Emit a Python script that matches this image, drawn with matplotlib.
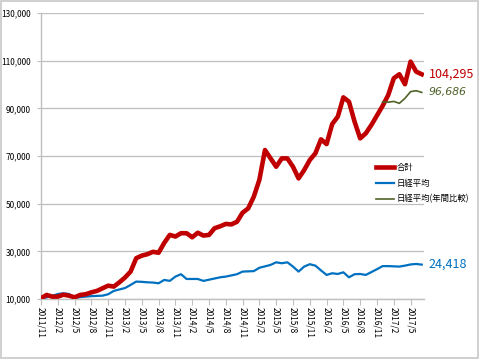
import matplotlib
matplotlib.use("Agg")
import matplotlib.pyplot as plt
from matplotlib.patches import Rectangle
from matplotlib.ticker import FuncFormatter, FixedLocator

plt.rcParams['font.family'] = ['Noto Sans CJK JP', 'DejaVu Sans']

# Monthly data, 2011/11 .. 2017/7
months = []
y, m = 2011, 11
for _ in range(69):
    months.append(f"{y}/{m}")
    m += 1
    if m > 12:
        m = 1
        y += 1

total = [10300, 11700, 11000, 11000, 11800, 11400, 10700, 11700, 12000, 12800,
         13400, 14500, 15600, 15200, 17000, 19000, 21500, 27100, 28200, 28800,
         29800, 29400, 33500, 36900, 36200, 37600, 37600, 35900, 37800, 36600,
         36900, 39700, 40500, 41500, 41300, 42400, 46200, 48000, 52900, 60000,
         72500, 69000, 65500, 69000, 69000, 65500, 60600, 64100, 68300, 71100,
         77000, 75000, 83400, 86500, 94600, 92800, 84400, 77400, 79500, 83000,
         87000, 91000, 95500, 102600, 104300, 100100, 109600, 105400, 104295]

nikkei = [10200, 10700, 11300, 12100, 12400, 12100, 10500, 10800, 11000, 11200,
          11300, 11400, 12000, 13400, 14000, 14600, 15900, 17300, 17200, 17000,
          16900, 16600, 18000, 17600, 19400, 20400, 18400, 18400, 18400, 17600,
          18100, 18600, 19100, 19400, 19900, 20400, 21500, 21600, 21700, 23100,
          23700, 24300, 25400, 25000, 25400, 23600, 21500, 23600, 24600, 24000,
          22000, 20100, 20800, 20500, 21200, 19100, 20400, 20500, 20100, 21300,
          22500, 23800, 23800, 23700, 23600, 24000, 24500, 24700, 24418]

yearly_start = 61
nikkei_yearly = [92700, 92600, 92900, 92100, 94200, 97000, 97400, 96686]

labels = ["合計", "日経平均", "日経平均(年間比較)"]
end_labels = ["104,295", "96,686", "24,418"]

c_red = "#C00000"
c_blue = "#0070C0"
c_green = "#4F6228"

fig = plt.figure(figsize=(4.8, 3.59), dpi=100)
fig.patches.append(Rectangle((0.002, 0.004), 0.994, 0.992, transform=fig.transFigure,
                             fill=False, edgecolor="#c8c8c8", linewidth=1.2))
ax = fig.add_axes([41/480, 1-299/359, 383/480, 286/359])

x = list(range(len(months)))
xg = list(range(yearly_start, yearly_start + len(nikkei_yearly)))

l1, = ax.plot(x, total, color=c_red, lw=3.3, solid_joinstyle='round', zorder=4)
l2, = ax.plot(x, nikkei, color=c_blue, lw=1.6, zorder=3)
l3, = ax.plot(xg, nikkei_yearly, color=c_green, lw=1.2, zorder=5)

ax.set_xlim(0, 68.4)
ax.set_ylim(10000, 130000)
ax.yaxis.set_major_locator(FixedLocator(range(10000, 130001, 20000)))
ax.yaxis.set_major_formatter(FuncFormatter(lambda v, p: f"{int(v):,}"))
ticks = list(range(0, 69, 3))
ax.set_xticks(ticks)
ax.set_xticklabels([months[i] for i in ticks], rotation=-90, fontsize=6)
ax.tick_params(axis='y', labelsize=6, length=3, width=0.8, color="#bfbfbf", pad=4.5)
ax.tick_params(axis='x', length=4, width=0.8, color="#bfbfbf", pad=1.5)
ax.grid(axis='y', color="#bfbfbf", lw=0.9)
ax.set_axisbelow(True)
for s in ['top', 'right']:
    ax.spines[s].set_visible(False)
for s in ['left', 'bottom']:
    ax.spines[s].set_color("#bfbfbf")
    ax.spines[s].set_linewidth(1.0)

ax.annotate(end_labels[0], xy=(x[-1], total[-1]), xytext=(5, 0), textcoords='offset points',
            color=c_red, fontsize=9, va='center', ha='left', annotation_clip=False)
ax.annotate(end_labels[1], xy=(xg[-1], nikkei_yearly[-1]), xytext=(5, 0), textcoords='offset points',
            color=c_green, fontsize=7.8, va='center', ha='left', style='italic',
            family=['DejaVu Sans'], annotation_clip=False)
ax.annotate(end_labels[2], xy=(x[-1], nikkei[-1]), xytext=(5, 0), textcoords='offset points',
            color=c_blue, fontsize=9, va='center', ha='left', annotation_clip=False)

fig.legend([l1, l2, l3], labels, loc='upper left', bbox_to_anchor=(376/480, 1-163/359),
           frameon=False, fontsize=6, handlelength=2.2, handletextpad=0.3,
           labelspacing=0.8, borderpad=0, borderaxespad=0)

fig.savefig("out.png", dpi=100)
